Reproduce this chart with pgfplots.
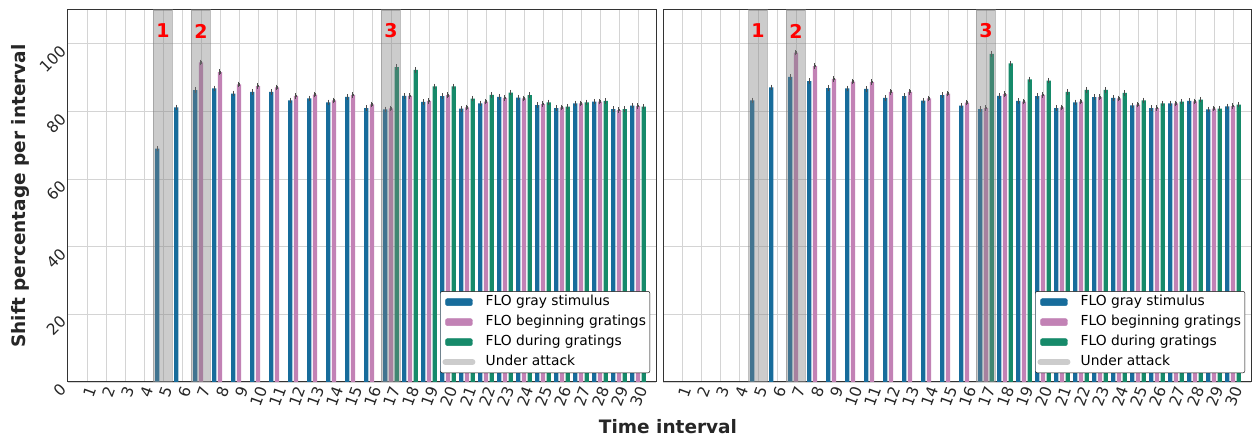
\documentclass[border=0pt]{standalone}
\usepackage{fontspec}
\setmainfont{DejaVu Sans}
\usepackage{pgfplots}
\usepackage{pgfplotstable}
\pgfplotsset{compat=1.18}

\definecolor{flogray}{HTML}{176C9B}
\definecolor{flobegin}{HTML}{C282B5}
\definecolor{floduring}{HTML}{168A6A}

% left panel
\pgfplotstableread{
x  gray begin during err
5  69.0 nan  nan  0.4
6  81.2 nan  nan  0.4
7  86.3 94.5 nan  0.4
8  86.8 91.6 nan  0.4
9  85.3 88.0 nan  0.4
10 85.8 87.5 nan  0.4
11 85.8 87.1 nan  0.4
12 83.3 84.6 nan  0.4
13 83.9 85.0 nan  0.4
14 82.7 83.3 nan  0.4
15 84.3 84.9 nan  0.4
16 81.0 82.1 nan  0.4
17 80.6 80.9 93.1 0.4
18 84.6 84.6 92.3 0.4
19 82.8 83.1 87.4 0.4
20 84.5 84.8 87.4 0.4
21 80.8 81.2 83.8 0.4
22 82.4 82.9 84.9 0.4
23 84.3 84.0 85.6 0.4
24 84.1 83.9 84.8 0.4
25 81.9 82.2 82.7 0.4
26 81.0 81.2 81.4 0.4
27 82.4 82.4 82.7 0.4
28 82.9 82.9 83.1 0.4
29 80.7 80.4 80.7 0.4
30 81.7 81.6 81.4 0.4
}\leftdata

% right panel
\pgfplotstableread{
x  gray begin during err
5  83.3 nan  nan  0.4
6  87.1 nan  nan  0.4
7  90.2 97.4 nan  0.4
8  89.0 93.4 nan  0.4
9  86.9 89.6 nan  0.4
10 86.8 88.8 nan  0.4
11 86.7 88.7 nan  0.4
12 84.0 85.8 nan  0.4
13 84.5 85.8 nan  0.4
14 83.2 83.9 nan  0.4
15 84.8 85.3 nan  0.4
16 81.7 82.6 nan  0.4
17 80.7 81.0 97.0 0.4
18 84.6 85.1 94.2 0.4
19 83.1 82.9 89.5 0.4
20 84.5 84.9 89.1 0.4
21 81.0 81.2 85.8 0.4
22 82.7 82.9 86.4 0.4
23 84.2 84.2 86.4 0.4
24 84.0 83.9 85.5 0.4
25 81.8 82.0 83.3 0.4
26 81.0 81.0 82.4 0.4
27 82.4 82.4 82.9 0.4
28 83.1 83.0 83.5 0.4
29 80.6 80.8 80.8 0.4
30 81.5 81.6 82.0 0.4
}\rightdata

\tikzset{num/.style={text=red, font=\bfseries\fontsize{19}{19}\selectfont}}

\pgfplotsset{
  panel/.style={
    width=588pt, height=372pt, scale only axis,
    anchor=south west,
    xmin=0, xmax=30.95, ymin=0, ymax=110,
    xtick={1,...,30}, ytick={0,20,...,100},
    grid=major,
    major grid style={color=black!17, line width=0.9pt},
    major tick length=0pt,
    axis line style={color=black!80, line width=1pt},
    tick label style={font=\fontsize{15.5}{15.5}\selectfont, color=black!85},
    /pgf/number format/assume math mode=true,
    xticklabel style={rotate=70, anchor=east, yshift=-6pt},
    yticklabel style={rotate=45, anchor=east, xshift=-3pt},
    label style={font=\bfseries\fontsize{18.5}{18.5}\selectfont, color=black!85},
    legend cell align=left,
    legend style={at={(rel axis cs:0.99,0.024)}, anchor=south east,
      draw=black, rounded corners=2pt, fill=white,
      font=\fontsize{13.8}{13.8}\selectfont, row sep=2.5pt, inner sep=2pt,
      nodes={inner sep=2pt, text height=10pt, text depth=3.5pt}},
  },
  flobar/.style={ybar, bar width=4.3pt, bar shift=0pt, draw=none, fill=#1, forget plot,
    error bars/y dir=both, error bars/y explicit,
    error bars/error mark=-,
    error bars/error bar style={line width=1.2pt, color=black!70},
    error bars/error mark options={line width=1pt, mark size=1.4pt, color=black!70, rotate=0}},
  attack/.style={sharp plot, forget plot, mark=none, fill=gray, fill opacity=0.4,
    draw=gray, draw opacity=0.5, line width=1.3pt},
  patch/.style={legend image code/.code={\fill[#1] (0pt,-3.5pt) rectangle (27pt,3.5pt); \path (38pt,0pt);}},
}

\begin{document}
\begin{tikzpicture}
\begin{axis}[panel, at={(0pt,0pt)},
  ylabel={Shift percentage per interval},
  ylabel style={at={(axis description cs:-0.0816,0.5)}, anchor=center}]
\addplot[flobar=flogray] table[x expr=\thisrow{x}-0.3, y=gray, y error=err] {\leftdata};
\addplot[flobar=flobegin] table[x=x, y=begin, y error=err] {\leftdata};
\addplot[flobar=floduring] table[x expr=\thisrow{x}+0.3, y=during, y error=err] {\leftdata};
\addplot[attack] coordinates {(4.5,110) (5.5,110)} \closedcycle;
\addplot[attack] coordinates {(6.5,110) (7.5,110)} \closedcycle;
\addplot[attack] coordinates {(16.5,110) (17.5,110)} \closedcycle;
\node[num] at (axis cs:5,103.8) {1};
\node[num] at (axis cs:7,103.8) {2};
\node[num] at (axis cs:17,103.8) {3};
\addlegendimage{patch=flogray}
\addlegendentry{FLO gray stimulus}
\addlegendimage{patch=flobegin}
\addlegendentry{FLO beginning gratings}
\addlegendimage{patch=floduring}
\addlegendentry{FLO during gratings}
\addlegendimage{legend image code/.code={\draw[black!20, line width=6pt, line cap=round] (0pt,0pt) -- (27pt,0pt); \path (38pt,0pt);}}
\addlegendentry{Under attack}
\end{axis}

\begin{axis}[panel, at={(595pt,0pt)}, yticklabels={}]
\addplot[flobar=flogray] table[x expr=\thisrow{x}-0.3, y=gray, y error=err] {\rightdata};
\addplot[flobar=flobegin] table[x=x, y=begin, y error=err] {\rightdata};
\addplot[flobar=floduring] table[x expr=\thisrow{x}+0.3, y=during, y error=err] {\rightdata};
\addplot[attack] coordinates {(4.5,110) (5.5,110)} \closedcycle;
\addplot[attack] coordinates {(6.5,110) (7.5,110)} \closedcycle;
\addplot[attack] coordinates {(16.5,110) (17.5,110)} \closedcycle;
\node[num] at (axis cs:5,103.8) {1};
\node[num] at (axis cs:7,103.8) {2};
\node[num] at (axis cs:17,103.8) {3};
\addlegendimage{patch=flogray}
\addlegendentry{FLO gray stimulus}
\addlegendimage{patch=flobegin}
\addlegendentry{FLO beginning gratings}
\addlegendimage{patch=floduring}
\addlegendentry{FLO during gratings}
\addlegendimage{legend image code/.code={\draw[black!20, line width=6pt, line cap=round] (0pt,0pt) -- (27pt,0pt); \path (38pt,0pt);}}
\addlegendentry{Under attack}
\end{axis}

\node[anchor=base, font=\bfseries\fontsize{18.5}{18.5}\selectfont, text=black!85] at (600pt,-51pt) {Time interval};
\pgfresetboundingbox
\useasboundingbox (-68pt,-57pt) rectangle (1185pt,382pt);
\end{tikzpicture}
\end{document}
